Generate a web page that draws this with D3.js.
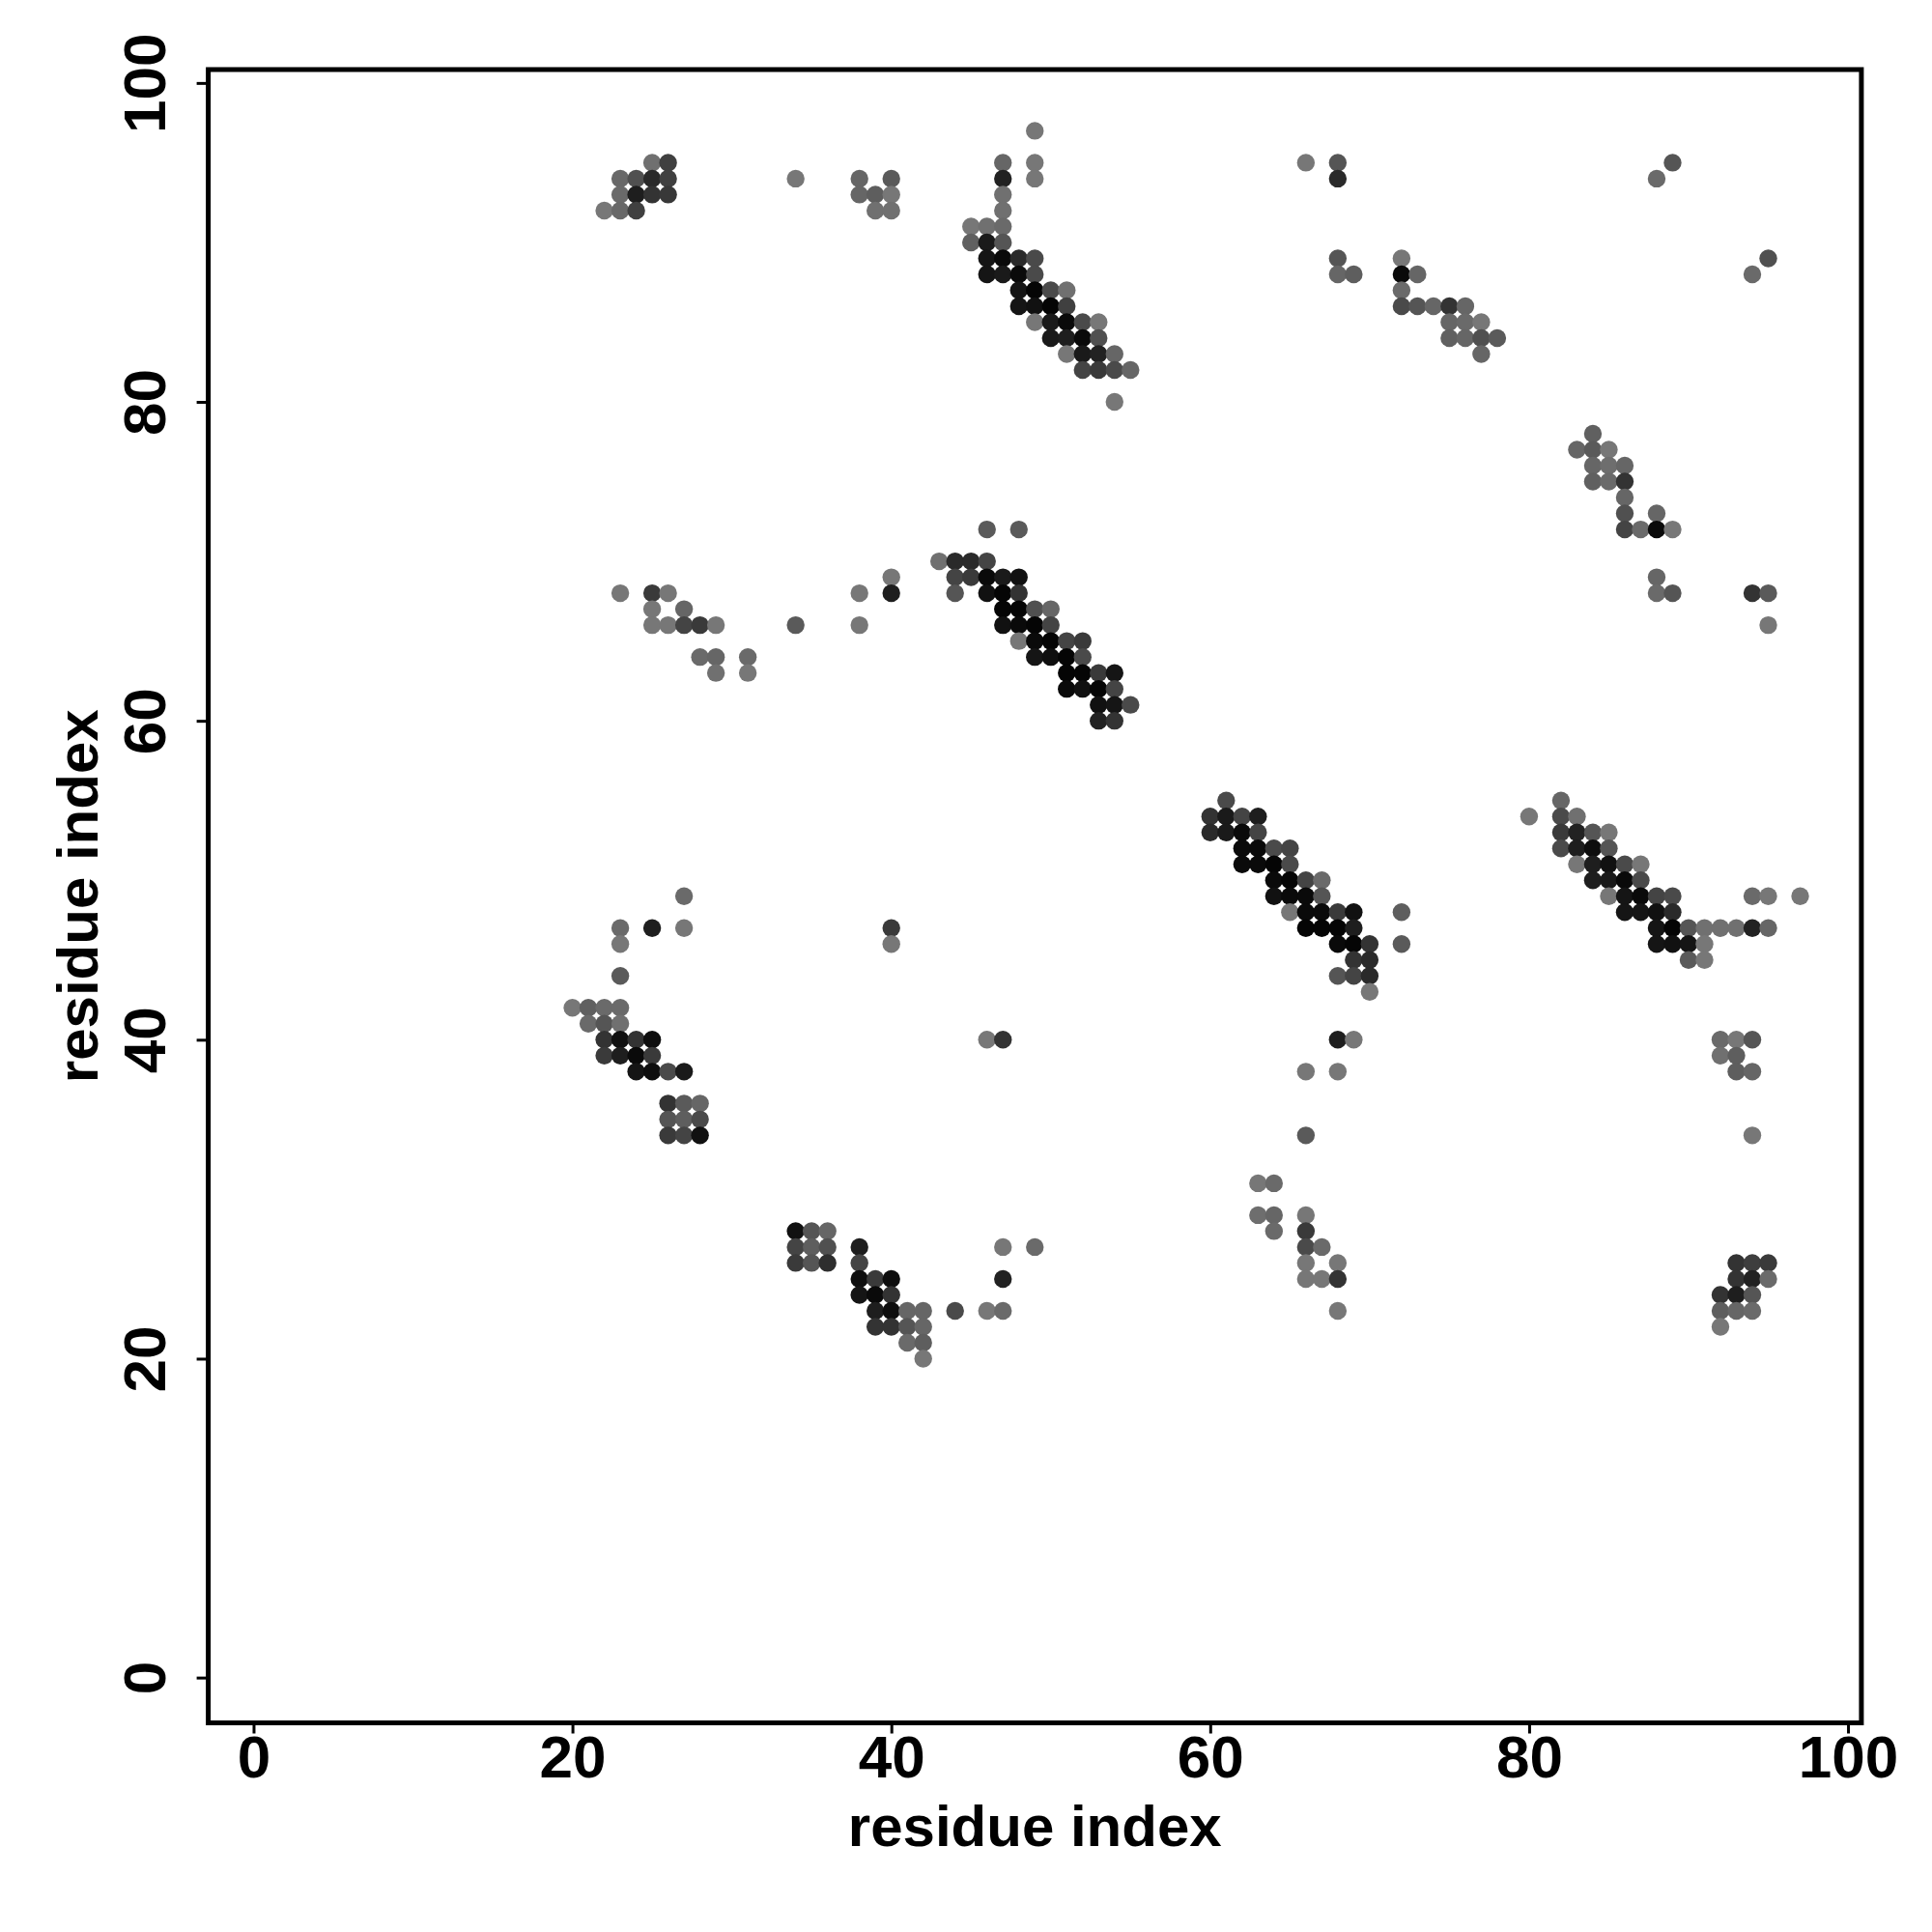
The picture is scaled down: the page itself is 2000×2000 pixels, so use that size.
<!DOCTYPE html>
<html>
<head>
<meta charset="utf-8">
<script src="https://cdn.jsdelivr.net/npm/d3@7"></script>
<style>
  body { margin: 0; background: #fff; }
  svg text { font-family: "Liberation Sans", Arial, sans-serif; font-weight: bold; fill: #000; }
</style>
</head>
<body>
<div id="canvas"></div>
<script>
// contacts: [residue i, residue j, grey level 0-255]
var topLeft = [
  [25,95,112],[26,95,64],
  [23,94,104],[24,94,80],[25,94,42],[26,94,64],
  [23,93,106],[24,93,30],[25,93,51],[26,93,56],
  [22,92,119],[23,92,104],[24,92,64],
  [34,94,119],
  [38,94,102],[40,94,90],[38,93,102],[39,93,94],[40,93,119],[39,92,112],[40,92,112]
];

var topDiag = [
  [49,97,119],
  [47,95,102],[49,95,119],
  [47,94,34],[49,94,119],
  [47,93,112],
  [47,92,112],
  [45,91,119],[46,91,112],[47,91,106],
  [45,90,96],[46,90,26],[47,90,85],
  [46,89,21],[47,89,10],[48,89,42],[49,89,74],
  [46,88,21],[47,88,26],[48,88,10],[49,88,74],
  [48,87,21],[49,87,5],[50,87,74],[51,87,112],
  [48,86,21],[49,86,17],[50,86,5],[51,86,64],
  [49,85,119],[50,85,26],[51,85,10],[52,85,74],[53,85,119],
  [50,84,26],[51,84,30],[52,84,10],[53,84,80],
  [51,83,119],[52,83,26],[53,83,34],[54,83,102],
  [52,82,68],[53,82,58],[54,82,74],[55,82,102],
  [54,80,119]
];

var topRight = [
  [66,95,119],[68,95,85],[68,94,42],[68,89,85],[68,88,102],[69,88,94],
  [72,89,119],[72,88,10],[73,88,102],[72,87,106],
  [72,86,74],[73,86,85],[74,86,102],[75,86,51],[76,86,102],
  [75,85,102],[76,85,106],[77,85,119],
  [75,84,96],[76,84,102],[77,84,80],[78,84,90],
  [77,83,102],
  [89,95,85],[88,94,106],[95,89,80],[94,88,106],
  [84,78,96],
  [83,77,102],[84,77,90],[85,77,119],
  [84,76,102],[85,76,110],[86,76,102],
  [84,75,96],[85,75,106],[86,75,51],
  [86,74,102],
  [86,73,80],[88,73,102],
  [86,72,68],[87,72,106],[88,72,10],[89,72,119],
  [88,69,102],
  [88,68,106],[89,68,85],
  [94,68,51],[95,68,90],[95,66,119]
];

var midDiag = [
  [46,72,90],[48,72,90],
  [43,70,112],[44,70,42],[45,70,42],[46,70,68],
  [44,69,68],[45,69,58],[46,69,10],[47,69,26],[48,69,17],
  [44,68,85],[46,68,17],[47,68,5],[48,68,51],
  [47,67,5],[48,67,5],[49,67,80],[50,67,102],
  [47,66,17],[48,66,10],[49,66,5],[50,66,68],
  [48,65,119],[49,65,10],[50,65,5],[51,65,68],[52,65,58],
  [49,64,21],[50,64,14],[51,64,5],[52,64,74],
  [51,63,5],[52,63,5],[53,63,58],[54,63,21],
  [51,62,10],[52,62,17],[53,62,5],[54,62,68],
  [53,61,17],[54,61,21],[55,61,74],
  [53,60,34],[54,60,51]
];

var midLeft = [
  [23,68,119],[25,68,58],[26,68,119],
  [25,67,119],[27,67,102],
  [25,66,119],[26,66,119],[27,66,68],[28,66,58],[29,66,119],
  [28,64,106],[29,64,102],[31,64,106],
  [29,63,112],[31,63,119],
  [34,66,90],[38,68,119],[38,66,119],[40,69,119],[40,68,30]
];

var secondDiag = [
  [61,55,74],
  [60,54,51],[61,54,26],[62,54,68],[63,54,30],
  [60,53,42],[61,53,26],[62,53,10],[63,53,68],
  [62,52,10],[63,52,10],[64,52,74],[65,52,68],
  [62,51,10],[63,51,10],[64,51,5],[65,51,74],
  [64,50,10],[65,50,5],[66,50,68],[67,50,106],
  [64,49,17],[65,49,10],[66,49,10],[67,49,85],
  [65,48,119],[66,48,10],[67,48,10],[68,48,58],[69,48,17],
  [66,47,5],[67,47,5],[68,47,5],[69,47,30],
  [68,46,10],[69,46,5],[70,46,51],
  [69,45,51],[70,45,42],
  [68,44,85],[69,44,68],[70,44,42],
  [70,43,119],
  [72,48,94],[72,46,90]
];

var thirdDiag = [
  [82,55,102],
  [80,54,119],[82,54,74],[83,54,112],
  [82,53,58],[83,53,34],[84,53,85],[85,53,119],
  [82,52,74],[83,52,30],[84,52,14],[85,52,85],
  [83,51,119],[84,51,30],[85,51,17],[86,51,74],[87,51,119],
  [84,50,30],[85,50,26],[86,50,10],[87,50,74],
  [85,49,119],[86,49,21],[87,49,10],[88,49,68],[89,49,74],[94,49,106],[95,49,119],[97,49,119],
  [86,48,21],[87,48,21],[88,48,17],[89,48,42],
  [88,47,21],[89,47,5],[90,47,85],[91,47,112],[92,47,112],[93,47,112],[94,47,34],[95,47,102],
  [88,46,21],[89,46,17],[90,46,21],[91,46,119],
  [90,45,90],[91,45,119],
  [92,40,106],[93,40,119],[94,40,85],
  [92,39,112],[93,39,94],
  [93,38,94],[94,38,102],
  [94,34,119]
];

var lowLeft = [
  [27,49,106],
  [23,47,106],[25,47,30],[27,47,119],[40,47,58],
  [23,46,119],[40,46,119],
  [23,44,90],
  [20,42,119],[21,42,96],[22,42,106],[23,42,106],
  [21,41,106],[22,41,85],[23,41,112],
  [22,40,51],[23,40,17],[24,40,51],[25,40,14],
  [22,39,58],[23,39,30],[24,39,10],[25,39,58],
  [24,38,21],[25,38,14],[26,38,74],[27,38,26],
  [26,36,51],[27,36,90],[28,36,102],
  [26,35,85],[27,35,94],[28,35,74],
  [26,34,58],[27,34,68],[28,34,17],
  [46,40,119],[47,40,51],[68,40,30],[69,40,119],[66,38,119],[68,38,119],[66,34,90]
];

var bottom = [
  [34,28,17],[35,28,85],[36,28,102],
  [34,27,68],[35,27,94],[36,27,80],[38,27,30],
  [34,26,58],[35,26,85],[36,26,46],[38,26,68],
  [38,25,14],[39,25,58],[40,25,14],
  [38,24,21],[39,24,10],[40,24,51],
  [39,23,30],[40,23,14],[41,23,102],[42,23,102],[44,23,74],
  [39,22,51],[40,22,51],[41,22,85],[42,22,102],
  [41,21,106],[42,21,94],
  [42,20,119],
  [47,27,119],[49,27,106],[47,25,34],[46,23,119],[47,23,106],
  [63,31,119],[64,31,106],
  [63,29,110],[64,29,102],[66,29,119],
  [64,28,106],[66,28,58],
  [66,27,74],[67,27,106],
  [66,26,119],[68,26,119],
  [66,25,119],[67,25,119],[68,25,51],
  [68,23,119],
  [93,26,51],[94,26,62],[95,26,58],
  [93,25,51],[94,25,34],[95,25,106],
  [92,24,51],[93,24,30],[94,24,85],
  [92,23,94],[93,23,102],[94,23,106],
  [92,22,119]
];

var tickValues = [0, 20, 40, 60, 80, 100];
var axisTitle = 'residue index';

var contacts = [].concat(topLeft, topDiag, topRight, midDiag, midLeft,
                         secondDiag, thirdDiag, lowLeft, bottom);

var W = 2000, H = 2000;
var box = {l: 215.6, r: 1926.9, t: 72, b: 1783.5};

var svg = d3.select('#canvas')
    .append('svg')
    .attr('width', W)
    .attr('height', H);

svg.append('rect').attr('width', W).attr('height', H).attr('fill', '#fff');

// R style: data range 1..97 padded by 4%
var lim = [-2.84, 100.84];
var x = d3.scaleLinear().domain(lim).range([box.l, box.r]);
var y = d3.scaleLinear().domain(lim).range([box.b, box.t]);

svg.append('g').selectAll('circle')
    .data(contacts)
    .enter()
    .append('circle')
    .attr('cx', function(d){ return x(d[0]); })
    .attr('cy', function(d){ return y(d[1]); })
    .attr('r', 9.2)
    .attr('fill', function(d){ return d3.rgb(d[2], d[2], d[2]); });

// box
svg.append('rect')
    .attr('x', box.l).attr('y', box.t)
    .attr('width', box.r - box.l).attr('height', box.b - box.t)
    .attr('fill', 'none')
    .attr('stroke', '#000')
    .attr('stroke-width', 5);

// x axis
var xAxis = svg.append('g')
    .attr('transform', 'translate(0,' + box.b + ')')
    .call(d3.axisBottom(x).tickValues(tickValues).tickSize(11).tickFormat(d3.format('d')));
xAxis.select('.domain').remove();
xAxis.selectAll('.tick line').attr('stroke', '#000').attr('stroke-width', 3);
xAxis.selectAll('.tick text')
    .attr('y', 56.5).attr('dy', null)
    .style('font-size', '62px');

// y axis
var yAxis = svg.append('g')
    .attr('transform', 'translate(' + box.l + ',0)')
    .call(d3.axisLeft(y).tickValues(tickValues).tickSize(12).tickFormat(d3.format('d')));
yAxis.select('.domain').remove();
yAxis.selectAll('.tick line').attr('stroke', '#000').attr('stroke-width', 3);
yAxis.selectAll('.tick text')
    .attr('x', null).attr('dy', null)
    .attr('text-anchor', 'middle')
    .attr('transform', 'translate(-44.6,0) rotate(-90)')
    .style('font-size', '62px');

// titles
svg.append('text')
    .attr('x', (box.l + box.r) / 2)
    .attr('y', 1911)
    .attr('text-anchor', 'middle')
    .style('font-size', '60px')
    .text(axisTitle);

svg.append('text')
    .attr('transform', 'translate(101,' + ((box.t + box.b) / 2) + ') rotate(-90)')
    .attr('text-anchor', 'middle')
    .style('font-size', '60px')
    .text(axisTitle);
</script>
</body>
</html>
